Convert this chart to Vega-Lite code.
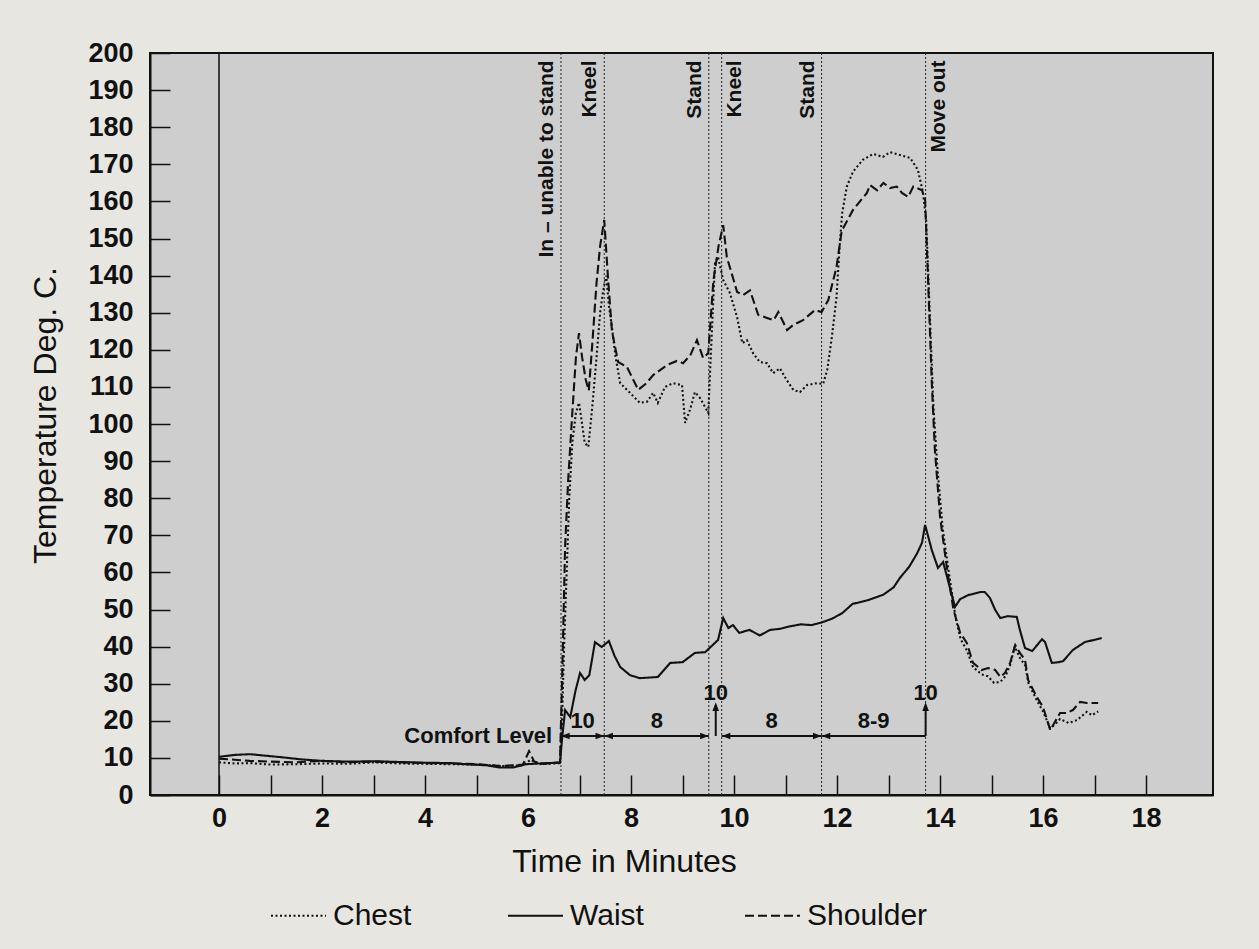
{
  "$schema": "https://vega.github.io/schema/vega-lite/v6.json",
  "width": 1063,
  "height": 742,
  "autosize": {"type": "none"},
  "padding": {"left": 150, "top": 53, "right": 46, "bottom": 154},
  "background": "#e8e6e1",
  "config": {
    "view": {"fill": "#cecece", "stroke": "#111111", "strokeWidth": 2},
    "font": "Liberation Sans",
    "axis": {
      "domainColor": "#111111", "domainWidth": 2,
      "tickColor": "#111111", "tickWidth": 1.5, "tickSize": -20,
      "labelFont": "Liberation Sans", "labelFontSize": 27, "labelFontWeight": "bold", "labelColor": "#111111",
      "titleFont": "Liberation Sans", "titleFontSize": 32, "titleFontWeight": "normal", "titleColor": "#111111",
      "grid": false
    }
  },
  "datasets": {
    "series": [
      {"t": 0, "v": 8.8, "s": "Chest"}, {"t": 0.3, "v": 8.5, "s": "Chest"}, {"t": 0.6, "v": 8.6, "s": "Chest"}, {"t": 1.0, "v": 8.2, "s": "Chest"}, {"t": 1.5, "v": 8.3, "s": "Chest"}, {"t": 2.0, "v": 8.5, "s": "Chest"}, {"t": 2.5, "v": 8.4, "s": "Chest"}, {"t": 3.0, "v": 8.8, "s": "Chest"}, {"t": 3.5, "v": 8.5, "s": "Chest"}, {"t": 4.0, "v": 8.4, "s": "Chest"}, {"t": 4.5, "v": 8.3, "s": "Chest"}, {"t": 5.0, "v": 8.2, "s": "Chest"}, {"t": 5.5, "v": 7.8, "s": "Chest"}, {"t": 5.9, "v": 8.0, "s": "Chest"}, {"t": 6.05, "v": 9.5, "s": "Chest"}, {"t": 6.2, "v": 8.3, "s": "Chest"}, {"t": 6.5, "v": 8.5, "s": "Chest"}, {"t": 6.62, "v": 8.6, "s": "Chest"},
      {"t": 6.66, "v": 20, "s": "Chest"}, {"t": 6.7, "v": 40, "s": "Chest"}, {"t": 6.75, "v": 60, "s": "Chest"}, {"t": 6.8, "v": 80, "s": "Chest"}, {"t": 6.86, "v": 95, "s": "Chest"}, {"t": 6.93, "v": 103, "s": "Chest"}, {"t": 6.99, "v": 105.7, "s": "Chest"}, {"t": 7.05, "v": 100, "s": "Chest"}, {"t": 7.1, "v": 95, "s": "Chest"}, {"t": 7.17, "v": 93.8, "s": "Chest"}, {"t": 7.25, "v": 105, "s": "Chest"}, {"t": 7.33, "v": 118, "s": "Chest"}, {"t": 7.4, "v": 130, "s": "Chest"}, {"t": 7.46, "v": 136, "s": "Chest"}, {"t": 7.52, "v": 140, "s": "Chest"}, {"t": 7.57, "v": 132, "s": "Chest"}, {"t": 7.63, "v": 126, "s": "Chest"}, {"t": 7.7, "v": 118, "s": "Chest"}, {"t": 7.79, "v": 111, "s": "Chest"}, {"t": 7.98, "v": 108.4, "s": "Chest"}, {"t": 8.17, "v": 105.7, "s": "Chest"}, {"t": 8.31, "v": 106, "s": "Chest"}, {"t": 8.43, "v": 108.4, "s": "Chest"}, {"t": 8.52, "v": 105.7, "s": "Chest"}, {"t": 8.66, "v": 110, "s": "Chest"}, {"t": 8.82, "v": 111, "s": "Chest"}, {"t": 8.99, "v": 110.5, "s": "Chest"}, {"t": 9.05, "v": 100.3, "s": "Chest"}, {"t": 9.15, "v": 104, "s": "Chest"}, {"t": 9.24, "v": 108.6, "s": "Chest"}, {"t": 9.34, "v": 107, "s": "Chest"}, {"t": 9.5, "v": 103, "s": "Chest"}, {"t": 9.57, "v": 125, "s": "Chest"}, {"t": 9.63, "v": 143.4, "s": "Chest"}, {"t": 9.69, "v": 145, "s": "Chest"}, {"t": 9.79, "v": 138.8, "s": "Chest"}, {"t": 9.92, "v": 135.3, "s": "Chest"}, {"t": 10.06, "v": 128.8, "s": "Chest"}, {"t": 10.16, "v": 121.8, "s": "Chest"}, {"t": 10.25, "v": 122.6, "s": "Chest"}, {"t": 10.37, "v": 119.1, "s": "Chest"}, {"t": 10.5, "v": 116.7, "s": "Chest"}, {"t": 10.64, "v": 116.4, "s": "Chest"}, {"t": 10.76, "v": 113.7, "s": "Chest"}, {"t": 10.89, "v": 115, "s": "Chest"}, {"t": 11.02, "v": 111.9, "s": "Chest"}, {"t": 11.15, "v": 109.2, "s": "Chest"}, {"t": 11.28, "v": 108.6, "s": "Chest"}, {"t": 11.42, "v": 110.5, "s": "Chest"}, {"t": 11.61, "v": 111, "s": "Chest"}, {"t": 11.73, "v": 110.8, "s": "Chest"}, {"t": 11.81, "v": 114.6, "s": "Chest"}, {"t": 11.9, "v": 123.5, "s": "Chest"}, {"t": 11.99, "v": 134.2, "s": "Chest"}, {"t": 12.05, "v": 147.7, "s": "Chest"}, {"t": 12.1, "v": 156.9, "s": "Chest"}, {"t": 12.19, "v": 164, "s": "Chest"}, {"t": 12.31, "v": 168, "s": "Chest"}, {"t": 12.5, "v": 171.2, "s": "Chest"}, {"t": 12.7, "v": 172.8, "s": "Chest"}, {"t": 12.89, "v": 172, "s": "Chest"}, {"t": 13.03, "v": 173.3, "s": "Chest"}, {"t": 13.22, "v": 172.5, "s": "Chest"}, {"t": 13.42, "v": 171.7, "s": "Chest"}, {"t": 13.57, "v": 168.5, "s": "Chest"}, {"t": 13.67, "v": 162.3, "s": "Chest"}, {"t": 13.73, "v": 155, "s": "Chest"}, {"t": 13.8, "v": 130, "s": "Chest"}, {"t": 13.87, "v": 105, "s": "Chest"}, {"t": 13.95, "v": 88, "s": "Chest"}, {"t": 14.05, "v": 72, "s": "Chest"}, {"t": 14.15, "v": 62, "s": "Chest"}, {"t": 14.3, "v": 48, "s": "Chest"}, {"t": 14.4, "v": 42, "s": "Chest"}, {"t": 14.52, "v": 39, "s": "Chest"}, {"t": 14.64, "v": 34.5, "s": "Chest"}, {"t": 14.81, "v": 32.5, "s": "Chest"}, {"t": 14.93, "v": 32, "s": "Chest"}, {"t": 15.05, "v": 30.2, "s": "Chest"}, {"t": 15.17, "v": 30.5, "s": "Chest"}, {"t": 15.27, "v": 32, "s": "Chest"}, {"t": 15.36, "v": 35, "s": "Chest"}, {"t": 15.45, "v": 40, "s": "Chest"}, {"t": 15.55, "v": 37, "s": "Chest"}, {"t": 15.65, "v": 35, "s": "Chest"}, {"t": 15.72, "v": 30, "s": "Chest"}, {"t": 15.88, "v": 25.5, "s": "Chest"}, {"t": 16.0, "v": 22.5, "s": "Chest"}, {"t": 16.14, "v": 18, "s": "Chest"}, {"t": 16.23, "v": 19, "s": "Chest"}, {"t": 16.33, "v": 20.5, "s": "Chest"}, {"t": 16.5, "v": 19.4, "s": "Chest"}, {"t": 16.66, "v": 20.2, "s": "Chest"}, {"t": 16.85, "v": 22.4, "s": "Chest"}, {"t": 16.95, "v": 21.5, "s": "Chest"}, {"t": 17.07, "v": 22.5, "s": "Chest"},

      {"t": 0, "v": 10.3, "s": "Waist"}, {"t": 0.3, "v": 10.8, "s": "Waist"}, {"t": 0.6, "v": 11.0, "s": "Waist"}, {"t": 0.9, "v": 10.6, "s": "Waist"}, {"t": 1.2, "v": 10.2, "s": "Waist"}, {"t": 1.6, "v": 9.6, "s": "Waist"}, {"t": 2.0, "v": 9.2, "s": "Waist"}, {"t": 2.5, "v": 9.0, "s": "Waist"}, {"t": 3.0, "v": 9.1, "s": "Waist"}, {"t": 3.5, "v": 8.9, "s": "Waist"}, {"t": 4.0, "v": 8.7, "s": "Waist"}, {"t": 4.5, "v": 8.6, "s": "Waist"}, {"t": 4.8, "v": 8.3, "s": "Waist"}, {"t": 5.2, "v": 8.0, "s": "Waist"}, {"t": 5.45, "v": 7.4, "s": "Waist"}, {"t": 5.7, "v": 7.4, "s": "Waist"}, {"t": 5.97, "v": 8.3, "s": "Waist"}, {"t": 6.36, "v": 8.6, "s": "Waist"}, {"t": 6.62, "v": 8.7, "s": "Waist"},
      {"t": 6.66, "v": 15, "s": "Waist"}, {"t": 6.72, "v": 22.9, "s": "Waist"}, {"t": 6.82, "v": 21, "s": "Waist"}, {"t": 6.92, "v": 28, "s": "Waist"}, {"t": 7.01, "v": 32.9, "s": "Waist"}, {"t": 7.1, "v": 31, "s": "Waist"}, {"t": 7.19, "v": 32.3, "s": "Waist"}, {"t": 7.3, "v": 41.2, "s": "Waist"}, {"t": 7.43, "v": 39.9, "s": "Waist"}, {"t": 7.57, "v": 41.5, "s": "Waist"}, {"t": 7.68, "v": 37.5, "s": "Waist"}, {"t": 7.79, "v": 34.5, "s": "Waist"}, {"t": 7.98, "v": 32.3, "s": "Waist"}, {"t": 8.17, "v": 31.5, "s": "Waist"}, {"t": 8.52, "v": 31.8, "s": "Waist"}, {"t": 8.76, "v": 35.6, "s": "Waist"}, {"t": 9.0, "v": 35.8, "s": "Waist"}, {"t": 9.24, "v": 38.3, "s": "Waist"}, {"t": 9.44, "v": 38.5, "s": "Waist"}, {"t": 9.63, "v": 41, "s": "Waist"}, {"t": 9.69, "v": 41.8, "s": "Waist"}, {"t": 9.79, "v": 47.7, "s": "Waist"}, {"t": 9.89, "v": 45, "s": "Waist"}, {"t": 9.98, "v": 45.8, "s": "Waist"}, {"t": 10.1, "v": 43.7, "s": "Waist"}, {"t": 10.3, "v": 44.5, "s": "Waist"}, {"t": 10.5, "v": 43, "s": "Waist"}, {"t": 10.7, "v": 44.5, "s": "Waist"}, {"t": 10.9, "v": 44.8, "s": "Waist"}, {"t": 11.1, "v": 45.5, "s": "Waist"}, {"t": 11.3, "v": 46, "s": "Waist"}, {"t": 11.5, "v": 45.8, "s": "Waist"}, {"t": 11.7, "v": 46.5, "s": "Waist"}, {"t": 11.9, "v": 47.5, "s": "Waist"}, {"t": 12.1, "v": 49, "s": "Waist"}, {"t": 12.3, "v": 51.5, "s": "Waist"}, {"t": 12.6, "v": 52.5, "s": "Waist"}, {"t": 12.9, "v": 54, "s": "Waist"}, {"t": 13.1, "v": 56, "s": "Waist"}, {"t": 13.22, "v": 58.5, "s": "Waist"}, {"t": 13.4, "v": 61.5, "s": "Waist"}, {"t": 13.55, "v": 65, "s": "Waist"}, {"t": 13.65, "v": 68, "s": "Waist"}, {"t": 13.71, "v": 72.8, "s": "Waist"}, {"t": 13.84, "v": 66, "s": "Waist"}, {"t": 13.96, "v": 61.2, "s": "Waist"}, {"t": 14.06, "v": 62.8, "s": "Waist"}, {"t": 14.17, "v": 57, "s": "Waist"}, {"t": 14.29, "v": 50.7, "s": "Waist"}, {"t": 14.39, "v": 52.8, "s": "Waist"}, {"t": 14.55, "v": 53.9, "s": "Waist"}, {"t": 14.78, "v": 54.7, "s": "Waist"}, {"t": 14.87, "v": 54.7, "s": "Waist"}, {"t": 14.97, "v": 53.1, "s": "Waist"}, {"t": 15.07, "v": 49.9, "s": "Waist"}, {"t": 15.17, "v": 47.7, "s": "Waist"}, {"t": 15.32, "v": 48.2, "s": "Waist"}, {"t": 15.49, "v": 48, "s": "Waist"}, {"t": 15.55, "v": 44.5, "s": "Waist"}, {"t": 15.65, "v": 39.6, "s": "Waist"}, {"t": 15.79, "v": 38.8, "s": "Waist"}, {"t": 15.98, "v": 42, "s": "Waist"}, {"t": 16.04, "v": 41.2, "s": "Waist"}, {"t": 16.17, "v": 35.6, "s": "Waist"}, {"t": 16.3, "v": 35.8, "s": "Waist"}, {"t": 16.39, "v": 36.1, "s": "Waist"}, {"t": 16.58, "v": 39.1, "s": "Waist"}, {"t": 16.81, "v": 41.2, "s": "Waist"}, {"t": 17.14, "v": 42.3, "s": "Waist"},

      {"t": 0, "v": 9.8, "s": "Shoulder"}, {"t": 0.3, "v": 9.5, "s": "Shoulder"}, {"t": 0.6, "v": 9.2, "s": "Shoulder"}, {"t": 1.0, "v": 9.0, "s": "Shoulder"}, {"t": 1.5, "v": 8.8, "s": "Shoulder"}, {"t": 2.0, "v": 9.2, "s": "Shoulder"}, {"t": 2.5, "v": 8.8, "s": "Shoulder"}, {"t": 3.0, "v": 9.0, "s": "Shoulder"}, {"t": 3.5, "v": 8.8, "s": "Shoulder"}, {"t": 4.0, "v": 8.6, "s": "Shoulder"}, {"t": 4.5, "v": 8.5, "s": "Shoulder"}, {"t": 5.0, "v": 8.3, "s": "Shoulder"}, {"t": 5.5, "v": 7.8, "s": "Shoulder"}, {"t": 5.9, "v": 8.2, "s": "Shoulder"}, {"t": 6.02, "v": 11.8, "s": "Shoulder"}, {"t": 6.12, "v": 9, "s": "Shoulder"}, {"t": 6.3, "v": 8.4, "s": "Shoulder"}, {"t": 6.62, "v": 8.8, "s": "Shoulder"},
      {"t": 6.66, "v": 30, "s": "Shoulder"}, {"t": 6.72, "v": 67, "s": "Shoulder"}, {"t": 6.78, "v": 85, "s": "Shoulder"}, {"t": 6.86, "v": 103, "s": "Shoulder"}, {"t": 6.93, "v": 118, "s": "Shoulder"}, {"t": 6.99, "v": 124.5, "s": "Shoulder"}, {"t": 7.05, "v": 118, "s": "Shoulder"}, {"t": 7.12, "v": 112, "s": "Shoulder"}, {"t": 7.18, "v": 109, "s": "Shoulder"}, {"t": 7.25, "v": 122, "s": "Shoulder"}, {"t": 7.33, "v": 138, "s": "Shoulder"}, {"t": 7.4, "v": 148, "s": "Shoulder"}, {"t": 7.48, "v": 155, "s": "Shoulder"}, {"t": 7.55, "v": 140, "s": "Shoulder"}, {"t": 7.63, "v": 125, "s": "Shoulder"}, {"t": 7.75, "v": 116.7, "s": "Shoulder"}, {"t": 7.92, "v": 115.4, "s": "Shoulder"}, {"t": 8.14, "v": 109.2, "s": "Shoulder"}, {"t": 8.3, "v": 111, "s": "Shoulder"}, {"t": 8.43, "v": 113.2, "s": "Shoulder"}, {"t": 8.7, "v": 115.9, "s": "Shoulder"}, {"t": 8.89, "v": 117, "s": "Shoulder"}, {"t": 9.01, "v": 116.4, "s": "Shoulder"}, {"t": 9.15, "v": 118.5, "s": "Shoulder"}, {"t": 9.28, "v": 122.6, "s": "Shoulder"}, {"t": 9.4, "v": 117.8, "s": "Shoulder"}, {"t": 9.5, "v": 119.1, "s": "Shoulder"}, {"t": 9.6, "v": 138.8, "s": "Shoulder"}, {"t": 9.7, "v": 148, "s": "Shoulder"}, {"t": 9.79, "v": 153.6, "s": "Shoulder"}, {"t": 9.86, "v": 145, "s": "Shoulder"}, {"t": 10.06, "v": 135.6, "s": "Shoulder"}, {"t": 10.18, "v": 134.8, "s": "Shoulder"}, {"t": 10.31, "v": 136, "s": "Shoulder"}, {"t": 10.47, "v": 129.4, "s": "Shoulder"}, {"t": 10.64, "v": 128.6, "s": "Shoulder"}, {"t": 10.77, "v": 128, "s": "Shoulder"}, {"t": 10.86, "v": 130.2, "s": "Shoulder"}, {"t": 11.03, "v": 125.3, "s": "Shoulder"}, {"t": 11.15, "v": 126.7, "s": "Shoulder"}, {"t": 11.34, "v": 128, "s": "Shoulder"}, {"t": 11.57, "v": 130.7, "s": "Shoulder"}, {"t": 11.7, "v": 130.2, "s": "Shoulder"}, {"t": 11.83, "v": 133.4, "s": "Shoulder"}, {"t": 11.99, "v": 142.3, "s": "Shoulder"}, {"t": 12.09, "v": 152, "s": "Shoulder"}, {"t": 12.31, "v": 157.7, "s": "Shoulder"}, {"t": 12.58, "v": 162.3, "s": "Shoulder"}, {"t": 12.64, "v": 164.4, "s": "Shoulder"}, {"t": 12.78, "v": 163, "s": "Shoulder"}, {"t": 12.9, "v": 165, "s": "Shoulder"}, {"t": 13.03, "v": 163.6, "s": "Shoulder"}, {"t": 13.16, "v": 164, "s": "Shoulder"}, {"t": 13.26, "v": 162.3, "s": "Shoulder"}, {"t": 13.38, "v": 161.2, "s": "Shoulder"}, {"t": 13.48, "v": 164, "s": "Shoulder"}, {"t": 13.65, "v": 163, "s": "Shoulder"}, {"t": 13.71, "v": 160.4, "s": "Shoulder"}, {"t": 13.77, "v": 138, "s": "Shoulder"}, {"t": 13.84, "v": 111, "s": "Shoulder"}, {"t": 13.9, "v": 93, "s": "Shoulder"}, {"t": 14.0, "v": 75, "s": "Shoulder"}, {"t": 14.13, "v": 61.5, "s": "Shoulder"}, {"t": 14.26, "v": 50, "s": "Shoulder"}, {"t": 14.39, "v": 43.7, "s": "Shoulder"}, {"t": 14.52, "v": 41, "s": "Shoulder"}, {"t": 14.64, "v": 35.6, "s": "Shoulder"}, {"t": 14.81, "v": 33.7, "s": "Shoulder"}, {"t": 14.93, "v": 34.2, "s": "Shoulder"}, {"t": 15.07, "v": 33.7, "s": "Shoulder"}, {"t": 15.17, "v": 31.8, "s": "Shoulder"}, {"t": 15.26, "v": 32.9, "s": "Shoulder"}, {"t": 15.36, "v": 35.6, "s": "Shoulder"}, {"t": 15.46, "v": 40.4, "s": "Shoulder"}, {"t": 15.55, "v": 38.3, "s": "Shoulder"}, {"t": 15.65, "v": 36.4, "s": "Shoulder"}, {"t": 15.71, "v": 31, "s": "Shoulder"}, {"t": 15.88, "v": 26.4, "s": "Shoulder"}, {"t": 16.0, "v": 23.7, "s": "Shoulder"}, {"t": 16.14, "v": 17.5, "s": "Shoulder"}, {"t": 16.23, "v": 19.7, "s": "Shoulder"}, {"t": 16.33, "v": 22.1, "s": "Shoulder"}, {"t": 16.46, "v": 22.1, "s": "Shoulder"}, {"t": 16.58, "v": 22.9, "s": "Shoulder"}, {"t": 16.72, "v": 25.1, "s": "Shoulder"}, {"t": 16.85, "v": 24.8, "s": "Shoulder"}, {"t": 17.07, "v": 24.8, "s": "Shoulder"}
    ],
    "events": [
      {"t": 6.64}, {"t": 7.48}, {"t": 9.51}, {"t": 9.76}, {"t": 11.70}, {"t": 13.72}
    ],
    "eventLabelsLeft": [
      {"t": 6.64, "v": 198, "label": "In – unable to stand"},
      {"t": 7.48, "v": 198, "label": "Kneel"},
      {"t": 9.51, "v": 198, "label": "Stand"},
      {"t": 11.70, "v": 198, "label": "Stand"}
    ],
    "eventLabelsRight": [
      {"t": 9.76, "v": 198, "label": "Kneel"},
      {"t": 13.72, "v": 198, "label": "Move out"}
    ],
    "segments": [
      {"t": 6.64, "t2": 7.48, "v": 15.9, "v2": 15.9},
      {"t": 7.48, "t2": 9.51, "v": 15.9, "v2": 15.9},
      {"t": 9.76, "t2": 11.70, "v": 15.9, "v2": 15.9},
      {"t": 11.70, "t2": 13.72, "v": 15.9, "v2": 15.9},
      {"t": 9.645, "t2": 9.645, "v": 15.9, "v2": 24},
      {"t": 13.72, "t2": 13.72, "v": 15.9, "v2": 24}
    ],
    "heads": [
      {"t": 6.64, "v": 15.9, "dir": "L"},
      {"t": 7.48, "v": 15.9, "dir": "R"},
      {"t": 7.48, "v": 15.9, "dir": "L"},
      {"t": 9.51, "v": 15.9, "dir": "R"},
      {"t": 9.76, "v": 15.9, "dir": "L"},
      {"t": 11.70, "v": 15.9, "dir": "R"},
      {"t": 11.70, "v": 15.9, "dir": "L"},
      {"t": 9.645, "v": 25, "dir": "U"},
      {"t": 13.72, "v": 25, "dir": "U"}
    ],
    "notes": [
      {"t": 7.06, "v": 19.9, "label": "10"},
      {"t": 8.5, "v": 19.9, "label": "8"},
      {"t": 10.73, "v": 19.9, "label": "8"},
      {"t": 12.71, "v": 19.9, "label": "8-9"},
      {"t": 9.645, "v": 27.6, "label": "10"},
      {"t": 13.72, "v": 27.6, "label": "10"}
    ],
    "comfort": [
      {"t": 6.47, "v": 15.8, "label": "Comfort Level"}
    ]
  },
  "encoding": {
    "x": {
      "field": "t", "type": "quantitative",
      "scale": {"domain": [-1.34, 19.3], "nice": false, "zero": false},
      "axis": {
        "title": "Time in Minutes",
        "values": [0, 1, 2, 3, 4, 5, 6, 7, 8, 9, 10, 11, 12, 13, 14, 15, 16, 17, 18],
        "labelExpr": "datum.value % 2 === 0 ? datum.label : ''",
        "labelPadding": 30,
        "titlePadding": 15,
        "titleX": 474
      }
    },
    "y": {
      "field": "v", "type": "quantitative",
      "scale": {"domain": [0, 200], "nice": false, "zero": true},
      "axis": {
        "title": "Temperature Deg. C.",
        "values": [0, 10, 20, 30, 40, 50, 60, 70, 80, 90, 100, 110, 120, 130, 140, 150, 160, 170, 180, 190, 200],
        "labelPadding": 37,
        "titlePadding": 25,
        "titleY": 362
      }
    }
  },
  "layer": [
    {
      "data": {"name": "events"},
      "mark": {"type": "rule", "color": "#222222", "strokeWidth": 1, "strokeDash": [2, 2]},
      "encoding": {"y": null}
    },
    {
      "data": {"values": [{"t": 0}]},
      "mark": {"type": "rule", "color": "#111111", "strokeWidth": 1.5},
      "encoding": {"y": null}
    },
    {
      "data": {"name": "series"},
      "mark": {"type": "line", "color": "#111111", "strokeWidth": 2.1},
      "encoding": {
        "detail": {"field": "s"},
        "strokeDash": {
          "field": "s", "type": "nominal",
          "scale": {"domain": ["Chest", "Waist", "Shoulder"], "range": [[2, 2.5], [1, 0], [9, 4]]},
          "legend": {
            "title": null, "orient": "none", "direction": "horizontal",
            "legendX": 120, "legendY": 834,
            "symbolType": "stroke", "symbolSize": 3025, "symbolStrokeWidth": 2, "symbolStrokeColor": "#111111",
            "labelFont": "Liberation Sans", "labelFontSize": 30, "labelColor": "#111111", "labelOffset": 6,
            "columnPadding": 50, "gridAlign": "all"
          }
        }
      }
    },
    {
      "data": {"name": "eventLabelsLeft"},
      "mark": {"type": "text", "angle": 270, "align": "right", "baseline": "alphabetic", "dy": -8, "font": "Liberation Sans", "fontSize": 21, "fontWeight": "bold", "color": "#111111"},
      "encoding": {"text": {"field": "label"}}
    },
    {
      "data": {"name": "eventLabelsRight"},
      "mark": {"type": "text", "angle": 270, "align": "right", "baseline": "alphabetic", "dy": 19, "font": "Liberation Sans", "fontSize": 21, "fontWeight": "bold", "color": "#111111"},
      "encoding": {"text": {"field": "label"}}
    },
    {
      "data": {"name": "segments"},
      "mark": {"type": "rule", "color": "#111111", "strokeWidth": 2},
      "encoding": {"x2": {"field": "t2"}, "y2": {"field": "v2"}}
    },
    {
      "data": {"name": "heads"},
      "mark": {"type": "point", "filled": true, "color": "#111111", "opacity": 1, "size": 300},
      "encoding": {
        "shape": {
          "field": "dir", "type": "nominal",
          "scale": {"domain": ["L", "R", "U"], "range": ["M0,0L1,-0.38L1,0.38Z", "M0,0L-1,-0.38L-1,0.38Z", "M0,0L-0.38,1L0.38,1Z"]},
          "legend": null
        }
      }
    },
    {
      "data": {"name": "notes"},
      "mark": {"type": "text", "baseline": "middle", "align": "center", "font": "Liberation Sans", "fontSize": 22, "fontWeight": "bold", "color": "#111111"},
      "encoding": {"text": {"field": "label"}}
    },
    {
      "data": {"name": "comfort"},
      "mark": {"type": "text", "baseline": "middle", "align": "right", "font": "Liberation Sans", "fontSize": 22, "fontWeight": "bold", "color": "#111111"},
      "encoding": {"text": {"field": "label"}}
    }
  ]
}
